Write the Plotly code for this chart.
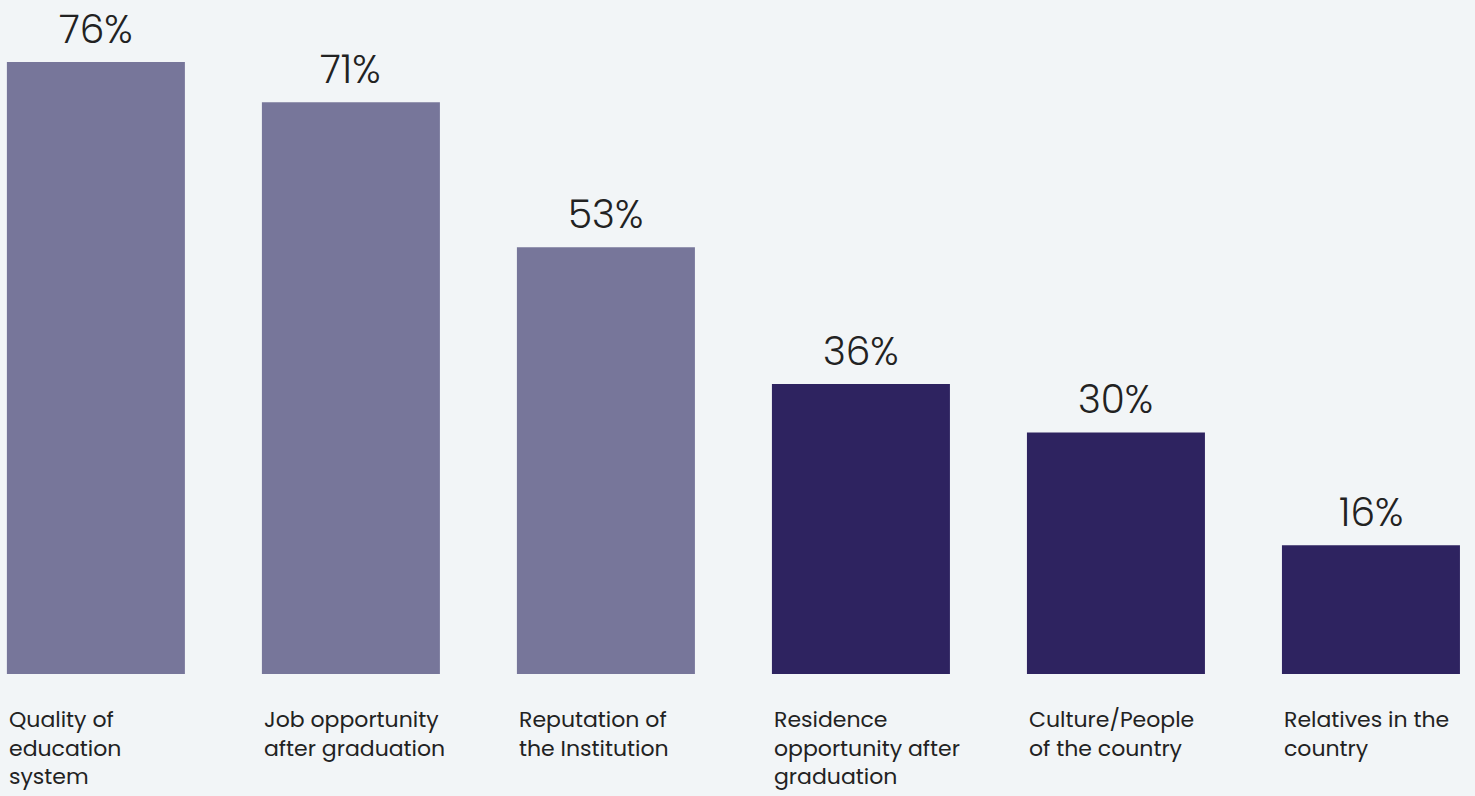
import plotly.graph_objects as go

# Reasons for choosing a study destination (share of respondents, %)
categories = [
    "Quality of<br>education<br>system",
    "Job opportunity<br>after graduation",
    "Reputation of<br>the Institution",
    "Residence<br>opportunity after<br>graduation",
    "Culture/People<br>of the country",
    "Relatives in the<br>country",
]
values = [76, 71, 53, 36, 30, 16]
highlight = [True, True, True, False, False, False]

LIGHT = "#77769a"
DARK = "#2e2360"
TEXT = "#222222"
BG = "#f2f5f7"
FONT = "Poppins, Open Sans, sans-serif"

W, H = 1475, 796
bargap = 0.302
half = (1 - bargap) / 2

xs = list(range(len(categories)))
colors = [LIGHT if h else DARK for h in highlight]

fig = go.Figure(
    go.Bar(
        x=xs,
        y=values,
        marker=dict(color=colors, line=dict(width=0)),
        hoverinfo="skip",
    )
)

annotations = []
for i, v in enumerate(values):
    # value label above each bar
    annotations.append(dict(
        x=i, y=v, xref="x", yref="y", text=f"{v}%",
        showarrow=False, xanchor="center", yanchor="bottom", yshift=3,
        font=dict(family=FONT, size=39, color=TEXT, weight=300),
    ))
    # category label below, left-aligned with the bar edge
    annotations.append(dict(
        x=i - half, y=0, xref="x", yref="y", text=categories[i],
        showarrow=False, xanchor="left", yanchor="top", yshift=-28,
        align="left",
        font=dict(family=FONT, size=22, color=TEXT),
    ))

fig.update_layout(
    width=W, height=H,
    margin=dict(l=0, r=0, t=0, b=122),
    paper_bgcolor=BG, plot_bgcolor=BG,
    bargap=bargap,
    showlegend=False,
    annotations=annotations,
    xaxis=dict(range=[-0.376, 5.408], visible=False, fixedrange=True),
    yaxis=dict(range=[0, 83.7], visible=False, fixedrange=True),
)

fig.write_html("out.html", config={"displayModeBar": False})
